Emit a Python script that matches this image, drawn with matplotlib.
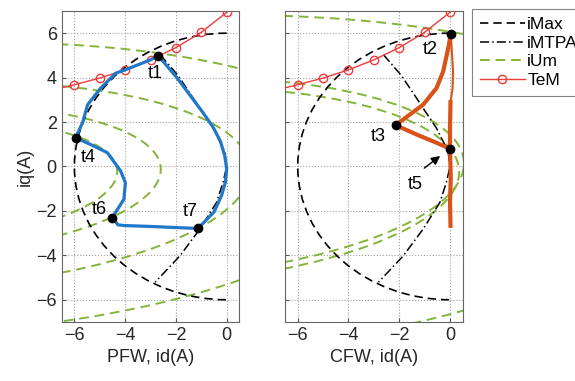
import matplotlib.pyplot as plt
from matplotlib.patches import Ellipse, Arc
from matplotlib.lines import Line2D

plt.rcParams['font.family'] = ['Liberation Sans', 'DejaVu Sans']

# TeM (constant torque line), same in both panels
tem_id = [-7, -6, -5, -4, -3, -2, -1, 0]
tem_iq = [3.40, 3.68, 3.98, 4.35, 4.80, 5.35, 6.04, 6.94]

# current limit circle radius
imax = 6.0

# MTPA curve
mtpa_id = [-2.62, -1.92, -1.32, -0.93, -0.54, -0.08, 0.0, -0.14, -0.4, -1.06, -1.84, -2.82]
mtpa_iq = [5.03, 4.10, 3.08, 2.40, 1.74, 0.69, 0.0, -0.70, -1.62, -2.82, -4.02, -5.21]

# voltage limit ellipses: centre id, centre iq, half width, half height, tilt (deg)
um_pfw_cx = [-11.7, -11.7, -11.7, -11.7]
um_pfw_cy = [-1.02, -0.88, -0.63, -0.63]
um_pfw_a = [17.9, 12.65, 9.12, 7.4]
um_pfw_b = [6.51, 4.6, 3.32, 2.69]
um_pfw_ang = [3.6, 3.8, 3.6, 3.6]

um_cfw_cx = [-11.7, -11.7, -11.7]
um_cfw_cy = [-0.93, -0.53, -0.90]
um_cfw_a = [21.0, 12.27, 12.08]
um_cfw_b = [7.65, 4.47, 4.40]
um_cfw_ang = [3.6, 3.6, 3.6]

# measured trajectory, PFW
pfw_id = [-2.69, -1.95, -0.97, -0.55, -0.25, -0.08, 0.0, -0.05, -0.2, -0.5, -1.13,
          -2.0, -3.0, -4.0, -4.28, -4.51, -4.05, -3.99, -4.18, -4.7, -5.36, -5.95,
          -5.67, -5.48, -4.96, -4.37, -4.0, -3.0, -2.69]
pfw_iq = [4.98, 3.98, 2.48, 1.8, 1.14, 0.5, -0.1, -0.7, -1.3, -2.05, -2.79,
          -2.75, -2.70, -2.66, -2.63, -2.30, -1.48, -0.73, -0.20, 0.62, 0.99, 1.29,
          2.0, 2.78, 3.53, 4.2, 4.35, 4.8, 4.98]
pfw_pts_id = [-2.69, -5.95, -4.51, -1.13]
pfw_pts_iq = [4.98, 1.29, -2.30, -2.79]
pfw_names = ['t1', 't4', 't6', 't7']
pfw_name_pos = [(-2.8, 4.2), (-5.44, 0.4), (-5.02, -1.92), (-1.42, -2.03)]

# measured trajectory, CFW
cfw_id_a = [0.03, -0.07, -0.27, -0.53, -1.06, -1.58, -2.14, -1.32, -0.6, 0.0]
cfw_iq_a = [5.95, 5.33, 4.28, 3.53, 2.78, 2.34, 1.86, 1.44, 1.1, 0.8]
cfw_id_b = [0.02, 0.0, 0.0, 0.03, 0.0, 0.02]
cfw_iq_b = [2.9, 1.8, 0.8, -0.5, -1.6, -2.67]
cfw_id_c = [0.03, 0.12, 0.10, 0.02]
cfw_iq_c = [5.95, 4.28, 3.5, 2.9]
cfw_pts_id = [0.03, -2.14, 0.0]
cfw_pts_iq = [5.95, 1.86, 0.8]
cfw_names = ['t2', 't3', 't5']
cfw_name_pos = [(-0.79, 5.25), (-2.82, 1.36), (-1.38, -0.8)]

green = '#86b33a'
red = '#ee3b3b'
blue = '#1f78c8'
orange = '#d95319'
dash = (0, (5, 3))
fs = 13

fig = plt.figure(figsize=(5.75, 3.81), dpi=100)
ax1 = fig.add_axes([0.1073, 0.1549, 0.309, 0.8163])
ax2 = fig.add_axes([0.4957, 0.1549, 0.309, 0.8163])


def base(ax, cx, cy, a, b, ang):
    for i in range(len(cx)):
        ax.add_patch(Ellipse((cx[i], cy[i]), 2 * a[i], 2 * b[i], angle=ang[i], fill=False,
                             ec=green, lw=1.4, ls=dash, zorder=2))
    ax.add_patch(Arc((0, 0), 2 * imax, 2 * imax, theta1=90, theta2=270, ec='k',
                     lw=1.2, ls=dash, zorder=3))
    ax.plot(mtpa_id, mtpa_iq, color='k', lw=1.1, ls=(0, (6, 2, 1, 2)), zorder=3)
    ax.plot(tem_id, tem_iq, color=red, lw=1.0, marker='o', ms=6, mfc='none',
            mec=red, zorder=4)


base(ax1, um_pfw_cx, um_pfw_cy, um_pfw_a, um_pfw_b, um_pfw_ang)
base(ax2, um_cfw_cx, um_cfw_cy, um_cfw_a, um_cfw_b, um_cfw_ang)

ax1.plot(pfw_id, pfw_iq, color=blue, lw=2.3, zorder=5)
ax1.plot(pfw_pts_id, pfw_pts_iq, 'o', color='k', ms=6, zorder=6)
for n, p in zip(pfw_names, pfw_name_pos):
    ax1.text(p[0], p[1], n, fontsize=fs, ha='center', va='center', zorder=7)

ax2.plot(cfw_id_c, cfw_iq_c, color=orange, lw=1.5, zorder=5)
ax2.plot(cfw_id_a, cfw_iq_a, color=orange, lw=3, zorder=5)
ax2.plot(cfw_id_b, cfw_iq_b, color=orange, lw=3, zorder=5)
ax2.plot(cfw_pts_id, cfw_pts_iq, 'o', color='k', ms=6, zorder=6)
for n, p in zip(cfw_names, cfw_name_pos):
    ax2.text(p[0], p[1], n, fontsize=fs, ha='center', va='center', zorder=7)
ax2.annotate('', xy=(-0.3, 0.55), xytext=(-1.1, -0.15),
             arrowprops=dict(arrowstyle='-|>', color='k', lw=1, mutation_scale=13))

for ax in (ax1, ax2):
    ax.set_xlim(-6.5, 0.5)
    ax.set_ylim(-7, 7)
    ax.set_xticks([-6, -4, -2, 0])
    ax.set_yticks([-6, -4, -2, 0, 2, 4, 6])
    ax.grid(True, ls=':', color='#a0a0a0', lw=0.8)
    ax.tick_params(direction='in', length=3, labelsize=fs, colors='#555555',
                   labelcolor='#262626')
    for s in ax.spines.values():
        s.set_color('#666666')
        s.set_linewidth(0.8)
ax2.set_yticklabels([])
ax1.set_ylabel('iq(A)', fontsize=fs, color='#262626', labelpad=2)
ax1.set_xlabel('PFW, id(A)', fontsize=fs, color='#262626', labelpad=4)
ax2.set_xlabel('CFW, id(A)', fontsize=fs, color='#262626', labelpad=4)

handles = [
    Line2D([], [], color='k', lw=1.2, ls=dash),
    Line2D([], [], color='k', lw=1.1, ls=(0, (6, 2, 1, 2))),
    Line2D([], [], color=green, lw=1.4, ls=dash),
    Line2D([], [], color=red, lw=1.0, marker='o', ms=6, mfc='none', mec=red),
]
leg = fig.legend(handles, ['iMax', 'iMTPA', 'iUm', 'TeM'], loc='upper left',
                 bbox_to_anchor=(0.8204, 0.976), fontsize=12.5, frameon=True,
                 fancybox=False, edgecolor='#666666', handlelength=2.6,
                 handletextpad=0.15, labelspacing=0.2, borderpad=0.45,
                 borderaxespad=0)
leg.get_frame().set_linewidth(0.8)

fig.savefig('out.png', dpi=100)
